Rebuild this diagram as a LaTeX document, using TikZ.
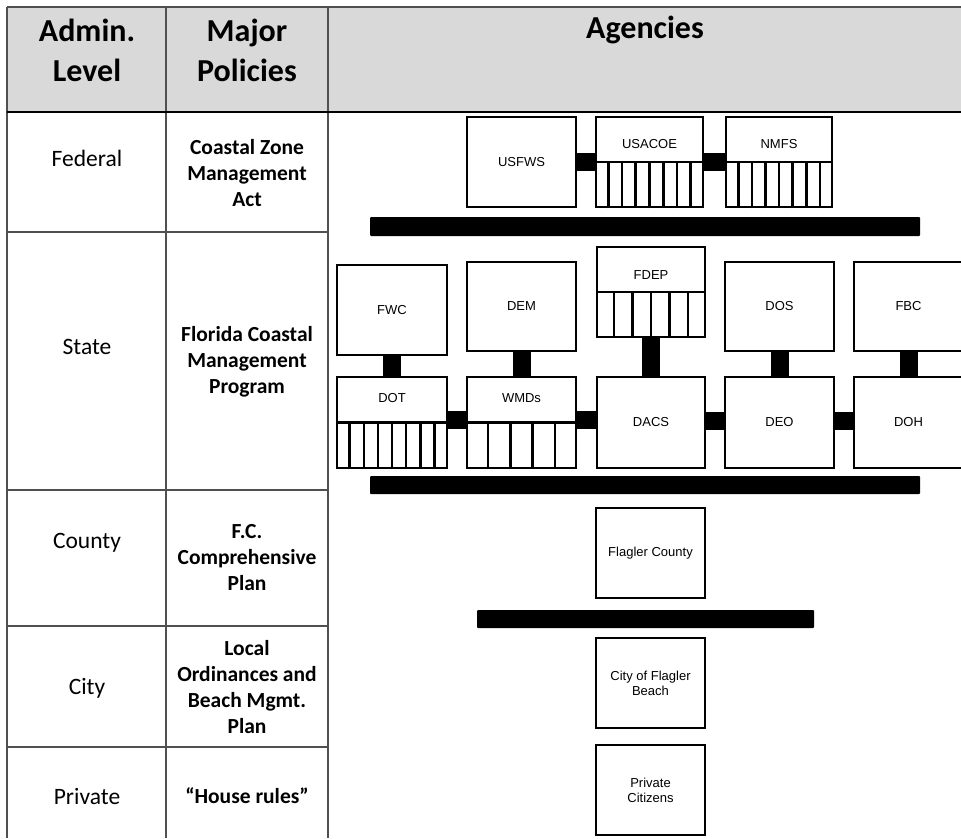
\documentclass[tikz,border=0pt]{standalone}
\usepackage{fontspec}
\setmainfont{Carlito}
\newfontfamily\arialf{Liberation Sans}
\usetikzlibrary{calc}
\definecolor{hdrgray}{RGB}{217,217,217}
\definecolor{tblline}{RGB}{80,80,80}
\tikzset{
  abox/.style={draw, line width=2.8pt, fill=white, inner sep=0pt,
    minimum width=109pt, minimum height=90pt, align=center,
    font=\arialf\fontsize{13}{15}\selectfont},
  alabel/.style={inner sep=0pt, align=center, font=\arialf\fontsize{13}{15}\selectfont},
  cellline/.style={line width=2.6pt},
  conn/.style={line width=18pt, line cap=butt},
  sepbar/.style={fill=black, inner sep=0pt, rounded corners=1pt},
  tline/.style={draw=tblline, line width=1.6pt},
  hdrtext/.style={align=center, inner sep=0pt, font=\bfseries\fontsize{32}{40}\selectfont},
  lvltext/.style={align=center, inner sep=0pt, font=\fontsize{23.5}{28}\selectfont},
  poltext/.style={align=center, inner sep=0pt, font=\bfseries\fontsize{21.5}{26}\selectfont},
}
\newcommand{\cellrow}[2]{%
  \draw[cellline] (#1.west) -- (#1.east);
  \foreach \i in {1,...,\numexpr#2-1\relax}{
    \draw[cellline] ($(#1.south west)!\i/#2!(#1.south east)$) -- ($(#1.west)!\i/#2!(#1.east)$);
  }%
}
\begin{document}
\begin{tikzpicture}[x=1pt,y=-1pt]
\useasboundingbox (0,0) rectangle (961,838);
% table
\fill[hdrgray] (7,7) rectangle (961,112);
\draw[tline] (7,7) -- (961,7);
\draw[tline] (7,7) -- (7,838);
\draw[tline] (166,7) -- (166,838);
\draw[tline] (328,7) -- (328,838);
\foreach \yy in {232,490,626,747}{\draw[tline] (7,\yy) -- (328,\yy);}
\draw[line width=2pt, black] (7,112) -- (961,112);

\node[hdrtext] (hadmin) at (87,50) {Admin.\\Level};
\node[hdrtext] (hmajor) at (247,50) {Major\\Policies};
\node[hdrtext] (hagencies) at (645,30) {Agencies};

\node[lvltext] (lfed) at (87,158) {Federal};
\node[lvltext] (lstate) at (87,347) {State};
\node[lvltext] (lcounty) at (87,543) {County};
\node[lvltext] (lcity) at (87,688) {City};
\node[lvltext] (lpriv) at (87,796) {Private};

\node[poltext] (pfed) at (247,173) {Coastal Zone\\Management\\Act};
\node[poltext] (pstate) at (247,362) {Florida Coastal\\Management\\Program};
\node[poltext] (pcounty) at (247,558) {F.C.\\Comprehensive\\Plan};
\node[poltext] (pcity) at (247,687) {Local\\Ordinances and\\Beach Mgmt.\\Plan};
\node[poltext] (ppriv) at (247,796) {“House rules”};

% federal agencies
\node[abox] (usfws) at (521.5,162) {USFWS};
\node[abox, minimum width=107pt] (usacoe) at (649.5,162) {};
\node[abox, minimum width=106pt] (nmfs) at (779,162) {};
\cellrow{usacoe}{8}
\cellrow{nmfs}{8}
\node[alabel] (usacoet) at ([yshift=-28pt]usacoe.north) {USACOE};
\node[alabel] (nmfst) at ([yshift=-28pt]nmfs.north) {NMFS};
\draw[conn] (usfws.east) -- (usacoe.west);
\draw[conn] (usacoe.east) -- (nmfs.west);

\node[sepbar, minimum width=550pt, minimum height=19pt] (bar1) at (645,226.5) {};

% state agencies
\node[abox, minimum width=110pt] (fwc) at (392,310) {FWC};
\node[abox, minimum height=89pt] (dem) at (521.5,306.5) {DEM};
\node[abox, minimum width=108pt] (fdep) at (651,292) {};
\node[abox, minimum height=89pt] (dos) at (779.5,306.5) {DOS};
\node[abox, minimum height=89pt] (fbc) at (908.5,306.5) {FBC};
\node[abox, minimum width=110pt, minimum height=91pt] (dot) at (392,422.5) {};
\node[abox, minimum height=91pt] (wmds) at (521.5,422.5) {};
\node[abox, minimum width=108pt, minimum height=91pt] (dacs) at (651,422.5) {DACS};
\node[abox, minimum height=91pt] (deo) at (779.5,422.5) {DEO};
\node[abox, minimum height=91pt] (doh) at (908.5,422.5) {DOH};
\cellrow{fdep}{6}
\cellrow{dot}{8}
\cellrow{wmds}{5}
\node[alabel] (fdept) at ([yshift=-29pt]fdep.north) {FDEP};
\node[alabel] (dott) at ([yshift=-22pt]dot.north) {DOT};
\node[alabel] (wmdst) at ([yshift=-22pt]wmds.north) {WMDs};

\draw[conn] (fwc.south) -- (dot.north);
\draw[conn] (dem.south) -- (wmds.north);
\draw[conn] (fdep.south) -- (dacs.north);
\draw[conn] (dos.south) -- (deo.north);
\draw[conn] (fbc.south) -- (doh.north);
\draw[conn] ([yshift=3pt]dot.east) -- ([yshift=3pt]wmds.west);
\draw[conn] ([yshift=3pt]wmds.east) -- ([yshift=3pt]dacs.west);
\draw[conn] ([yshift=2pt]dacs.east) -- ([yshift=2pt]deo.west);
\draw[conn] ([yshift=2pt]deo.east) -- ([yshift=2pt]doh.west);

\node[sepbar, minimum width=550pt, minimum height=18pt] (bar2) at (645,485) {};

% county, city, private
\node[abox] (flagler) at (650.5,553) {Flagler County};
\node[sepbar, minimum width=337pt, minimum height=18pt] (bar3) at (645.5,619) {};
\node[abox] (city) at (650.5,683) {City of Flagler\\Beach};
\node[abox] (privc) at (650.5,790) {Private\\Citizens};
\end{tikzpicture}
\end{document}
